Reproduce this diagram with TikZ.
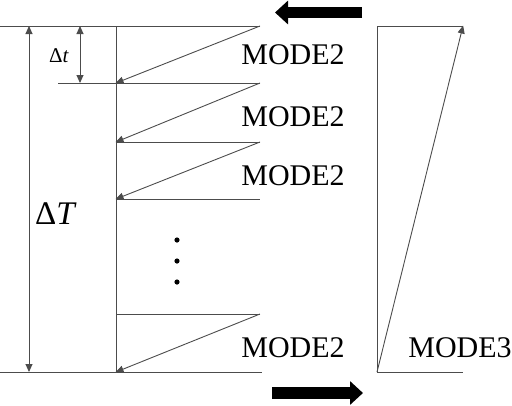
\documentclass[tikz,border=0pt]{standalone}
\usepackage{fontspec}
\setmainfont{Liberation Serif}
\usepackage{tikz}
\usetikzlibrary{arrows.meta,positioning}

\begin{document}
\begin{tikzpicture}[
    x=1pt, y=-1pt,
    line/.style={line width=0.9pt, draw=black!70},
    ramp/.style={line, -{Triangle[length=8pt,width=7pt]}, shorten >=-0.5pt},
    dim/.style={line, {Triangle[length=8pt,width=7pt]}-{Triangle[length=8pt,width=7pt]}},
    bigarrow/.style={line width=11.5pt, -{Triangle[length=13pt,width=23pt]}},
    mode/.style={inner sep=0pt, font=\fontsize{30}{32}\selectfont}
]
    \useasboundingbox (0,0) rectangle (512,405);

    % time steps of the sawtooth
    \foreach \y/\n in {26/s0, 83/s1, 142/s2, 199/s3, 314/s4, 372/s5} {
        \coordinate (\n L) at (116,\y);
        \coordinate (\n R) at (260,\y);
    }
    \coordinate (frameTop) at (0,26);
    \coordinate (frameBot) at (0,372);
    \coordinate (baseEnd) at (262,372);
    \coordinate (stepStart) at (58,83);

    \draw[line] (frameTop) -- (s0R);
    \draw[line] (frameBot) -- (baseEnd);
    \draw[line] (s0L) -- (s5L);
    \draw[line] (stepStart) -- (s1R);
    \draw[line] (s2L) -- (s2R);
    \draw[line] (s3L) -- (s3R);
    \draw[line] (s4L) -- (s4R);

    \draw[ramp] (s0R) -- (s1L);
    \draw[ramp] (s1R) -- (s2L);
    \draw[ramp] (s2R) -- (s3L);
    \draw[ramp] (s4R) -- (s5L);

    % dimension arrows
    \coordinate (bigTop) at (29,26);
    \coordinate (bigBot) at (29,372);
    \coordinate (smallTop) at (80,26);
    \coordinate (smallBot) at (80,83);
    \draw[dim] (bigTop) -- (bigBot);
    \draw[dim] (smallTop) -- (smallBot);
    \node[inner sep=0pt, font=\fontsize{33}{36}\selectfont] (bigLabel) at (56,214) {Δ\textit{T}};
    \node[inner sep=0pt, font=\fontsize{21}{24}\selectfont] (smallLabel) at (59,56) {Δ\textit{t}};

    % dots
    \foreach \y in {240,261,282}
        \fill (177,\y) circle (2.6);

    % MODE3 ramp
    \coordinate (m3TL) at (377,26);
    \coordinate (m3TR) at (463,26);
    \coordinate (m3BL) at (377,372);
    \coordinate (m3BR) at (463,372);
    \draw[line] (m3TR) -- (m3TL) -- (m3BL) -- (m3BR);
    \draw[ramp] (m3BL) -- (m3TR);

    % labels
    \node[mode] (mode2a) at (293,55) {MODE2};
    \node[mode] (mode2b) at (293,117) {MODE2};
    \node[mode] (mode2c) at (293,175.5) {MODE2};
    \node[mode] (mode2d) at (293,348) {MODE2};
    \node[mode] (mode3) at (460,348) {MODE3};

    % direction arrows
    \coordinate (backStart) at (362,12.5);
    \coordinate (backEnd) at (275,12.5);
    \coordinate (fwdStart) at (272,393);
    \coordinate (fwdEnd) at (363,393);
    \draw[bigarrow] (backStart) -- (backEnd);
    \draw[bigarrow] (fwdStart) -- (fwdEnd);
\end{tikzpicture}
\end{document}
